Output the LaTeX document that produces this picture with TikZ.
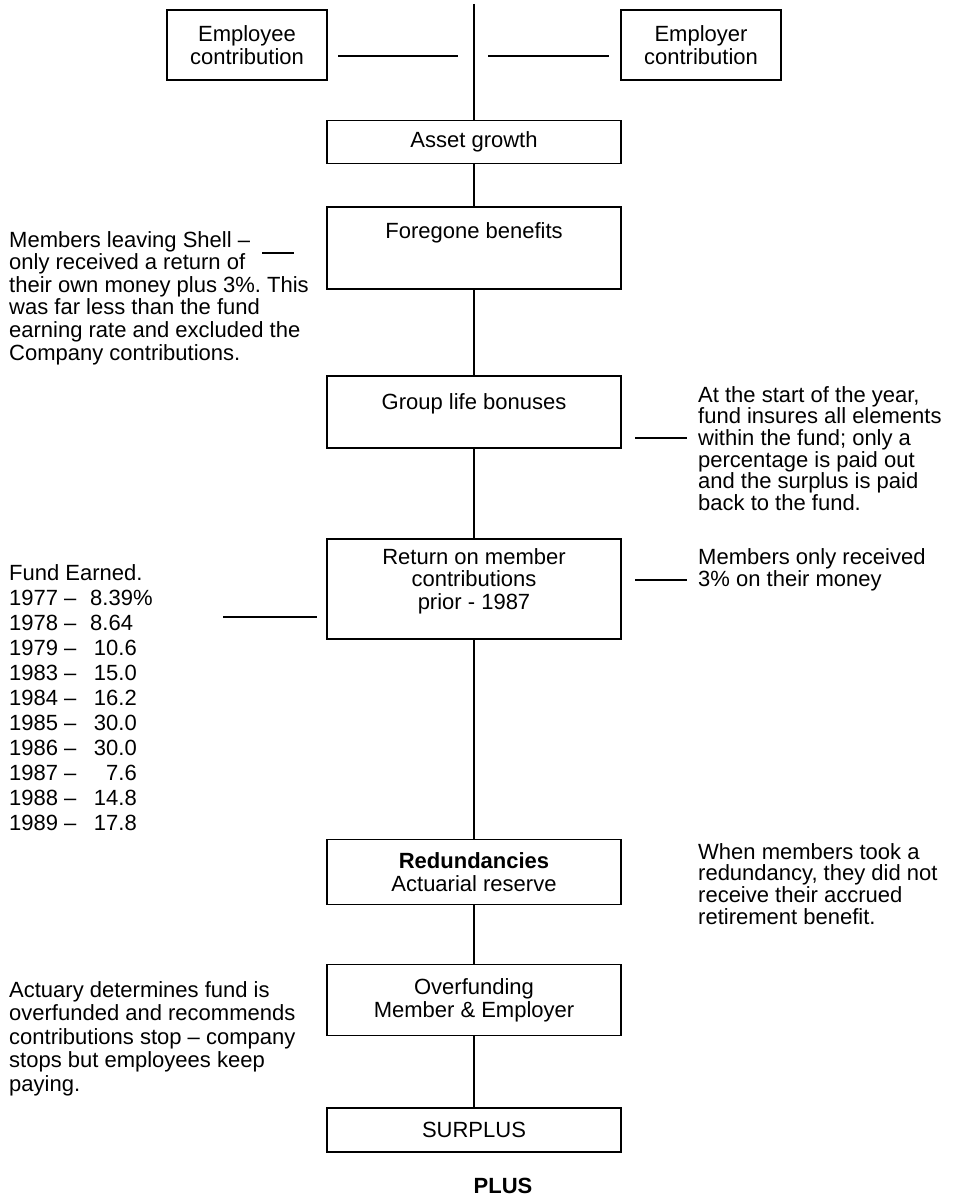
\documentclass[tikz,border=0pt]{standalone}
\usepackage{fontspec}
\setmainfont{Liberation Sans}
\usetikzlibrary{positioning}
\frenchspacing

\begin{document}
\begin{tikzpicture}[x=1pt,y=-1pt,font=\fontsize{22}{22.6}\selectfont,
  box/.style={draw,line width=1.6pt,inner sep=0pt,minimum width=294pt,align=center},
  topbox/.style={draw,line width=1.6pt,inner sep=0pt,minimum width=160pt,minimum height=70pt,align=center},
  boxtext/.style={inner sep=0pt,align=center},
  note/.style={anchor=north west,inner sep=0pt,align=left},
  row/.style={inner sep=0pt},
  link/.style={line width=1.6pt}]

\useasboundingbox (0,0) rectangle (962,1199);

% contributions at the top
\node[topbox] (employee) at (247,45) {Employee\\contribution};
\node[topbox] (employer) at (701,45) {Employer\\contribution};
\coordinate (top) at (474,4);
\coordinate (el) at (338,56); \coordinate (er) at (458,56);
\coordinate (rl) at (488,56); \coordinate (rr) at (609,56);
\draw[link] (el)--(er);
\draw[link] (rl)--(rr);

% main column
\node[box,minimum height=43pt] (asset) at (474,142) {Asset growth};
\node[box,minimum height=82pt] (forgone) at (474,248) {};
\node[boxtext,below=16pt of forgone.north] (forgonetxt) {Foregone benefits};
\node[box,minimum height=72pt] (group) at (474,412) {};
\node[boxtext,below=18pt of group.north] (grouptxt) {Group life bonuses};
\node[box,minimum height=100pt] (return) at (474,589) {};
\node[boxtext,below=10pt of return.north] (returntxt) {Return on member\\contributions\\prior - 1987};
\node[box,minimum height=65pt] (redund) at (474,872) {{\bfseries Redundancies}\\Actuarial reserve};
\node[box,minimum height=71pt] (overfund) at (474,1000) {Overfunding\\Member \& Employer};
\node[box,minimum height=44pt] (surplus) at (474,1130) {SURPLUS};
\node[boxtext,font=\fontsize{22}{22.6}\selectfont\bfseries] (plus) at (503,1186) {PLUS};

\draw[link] (top)--(asset);
\draw[link] (asset)--(forgone);
\draw[link] (forgone)--(group);
\draw[link] (group)--(return);
\draw[link] (return)--(redund);
\draw[link] (redund)--(overfund);
\draw[link] (overfund)--(surplus);

% left notes
\node[note] (leaving) at (9,231) {Members leaving Shell --\\only received a return of\\their own money plus 3\%. This\\was far less than the fund\\earning rate and excluded the\\Company contributions.};
\coordinate (ll) at (262,253); \coordinate (lr) at (294,253);
\draw[link] (ll)--(lr);

\node[row,anchor=base west] (earned) at (9,580) {Fund Earned.};
\foreach \yr/\val/\vx/\va [count=\i] in {1977/8.39\%/90/west,1978/8.64/90/west,
    1979/10.6/137/east,1983/15.0/137/east,1984/16.2/137/east,1985/30.0/137/east,
    1986/30.0/137/east,1987/7.6/137/east,1988/14.8/137/east,1989/17.8/137/east}{
  \node[row,anchor=base west] (yr\i) at (9,{580+25*\i}) {\yr\ --};
  \node[row,anchor=base \va] (val\i) at (\vx,{580+25*\i}) {\val};
}
\coordinate (fl) at (223,617); \coordinate (fr) at (317,617);
\draw[link] (fl)--(fr);

\node[note,font=\fontsize{22}{23.5}\selectfont] (actuary) at (9,981) {Actuary determines fund is\\overfunded and recommends\\contributions stop -- company\\stops but employees keep\\paying.};

% right notes
\node[note,font=\fontsize{22}{21.7}\selectfont] (insure) at (698,386) {At the start of the year,\\fund insures all elements\\within the fund; only a\\percentage is paid out\\and the surplus is paid\\back to the fund.};
\coordinate (gl) at (635,438); \coordinate (gr) at (687,438);
\draw[link] (gl)--(gr);

\node[note] (three) at (698,548) {Members only received\\3\% on their money};
\coordinate (ml) at (635,580); \coordinate (mr) at (687,580);
\draw[link] (ml)--(mr);

\node[note,font=\fontsize{22}{21.7}\selectfont] (took) at (698,843) {When members took a\\redundancy, they did not\\receive their accrued\\retirement benefit.};

\end{tikzpicture}
\end{document}
